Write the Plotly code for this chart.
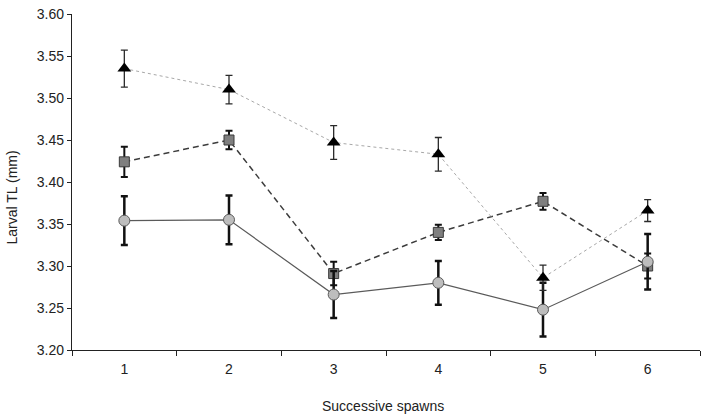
import plotly.graph_objects as go

spawns = [1, 2, 3, 4, 5, 6]
x_labels = ["1", "2", "3", "4", "5", "6"]

tri_mean = [3.535, 3.510, 3.447, 3.433, 3.286, 3.366]
tri_err = [0.022, 0.017, 0.020, 0.020, 0.015, 0.013]

sq_mean = [3.424, 3.450, 3.291, 3.340, 3.377, 3.300]
sq_err = [0.018, 0.011, 0.014, 0.009, 0.010, 0.015]

circ_mean = [3.354, 3.355, 3.266, 3.280, 3.248, 3.305]
circ_err = [0.029, 0.029, 0.028, 0.026, 0.032, 0.033]

y_ticks = [3.20, 3.25, 3.30, 3.35, 3.40, 3.45, 3.50, 3.55, 3.60]

fig = go.Figure()

fig.add_trace(go.Scatter(
    x=spawns, y=sq_mean, mode="lines+markers",
    line=dict(color="#3c3c3c", width=1.5, dash="6px,4px"),
    marker=dict(symbol="square", size=10, color="#7f7f7f",
                line=dict(color="#3a3a3a", width=1)),
    error_y=dict(type="data", array=sq_err, visible=True,
                 color="#111111", thickness=2, width=3.5),
    showlegend=False))

fig.add_trace(go.Scatter(
    x=spawns, y=circ_mean, mode="lines+markers",
    line=dict(color="#5a5a5a", width=1.2),
    marker=dict(symbol="circle", size=11, color="#bdbdbd",
                line=dict(color="#5a5a5a", width=1)),
    error_y=dict(type="data", array=circ_err, visible=True,
                 color="#111111", thickness=2.5, width=3.5),
    showlegend=False))

fig.add_trace(go.Scatter(
    x=spawns, y=tri_mean, mode="lines+markers",
    line=dict(color="#a8a8a8", width=1, dash="dot"),
    marker=dict(symbol="triangle-up", size=12, color="#000000",
                line=dict(color="#000000", width=0)),
    error_y=dict(type="data", array=tri_err, visible=True,
                 color="#2a2a2a", thickness=1.3, width=3.5),
    showlegend=False))

font_family = "Liberation Sans, Arial, sans-serif"

fig.update_layout(
    width=706, height=418,
    margin=dict(l=72, r=6, t=9, b=68),
    paper_bgcolor="white", plot_bgcolor="white",
    font=dict(family=font_family, size=14, color="#222222"),
    xaxis=dict(
        range=[0.5, 6.5], tickmode="array", tickvals=spawns, ticktext=x_labels,
        ticks="", showline=True, linecolor="#222222", linewidth=1.2,
        showgrid=False, zeroline=False, fixedrange=True,
        tickfont=dict(size=14), ticklabelstandoff=6,
        minor=dict(tickmode="linear", tick0=0.5, dtick=1, ticks="outside",
                   ticklen=5, tickcolor="#222222", tickwidth=1, showgrid=False),
    ),
    yaxis=dict(
        range=[3.20, 3.60], tickmode="array", tickvals=y_ticks,
        ticktext=[f"{v:.2f}" for v in y_ticks],
        ticks="outside", ticklen=4, tickcolor="#222222", tickwidth=1,
        showline=True, linecolor="#222222", linewidth=1.2,
        showgrid=False, zeroline=False, fixedrange=True,
        tickfont=dict(size=14),
    ),
    annotations=[
        dict(text="Larval TL (mm)", xref="paper", yref="paper",
             x=-0.095, y=0.455, xanchor="center", yanchor="middle",
             textangle=-90, showarrow=False, font=dict(size=14, color="#222222")),
        dict(text="Successive spawns", xref="paper", yref="paper",
             x=0.495, y=-0.168, xanchor="center", yanchor="middle",
             showarrow=False, font=dict(size=14, color="#222222")),
    ],
)

fig.write_html("out.html",
               config={"displayModeBar": False, "staticPlot": True},
               post_script="document.body.style.margin='0';document.body.style.padding='0';")
